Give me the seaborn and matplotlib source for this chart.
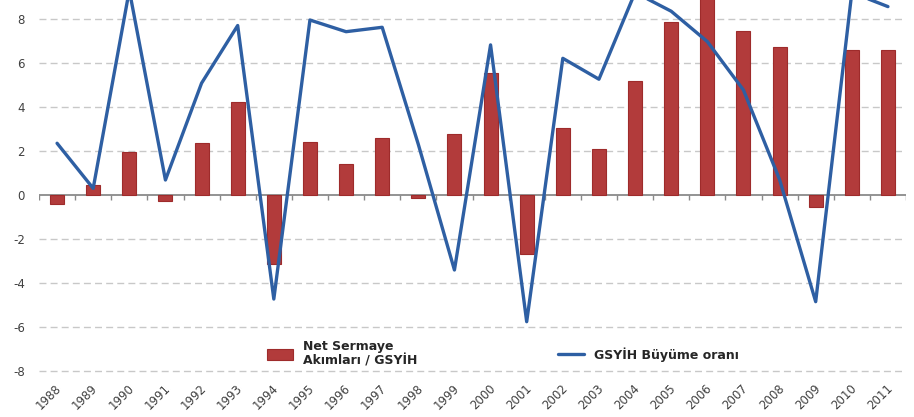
import numpy as np
import pandas as pd
import matplotlib
matplotlib.use("Agg")
import matplotlib.pyplot as plt
from matplotlib.patches import Patch
from matplotlib.lines import Line2D
import seaborn as sns

# values
years = [str(y) for y in range(1988, 2012)]
net_flows = [-0.4, 0.45, 1.95, -0.27, 2.35, 4.24, -3.15, 2.41, 1.41, 2.6, -0.12, 2.76,
             5.53, -2.68, 3.03, 2.09, 5.17, 7.85, 9.2, 7.44, 6.71, -0.53, 6.58, 6.59]
growth = [2.35, 0.3, 9.3, 0.68, 5.08, 7.7, -4.73, 7.95, 7.42, 7.62, 2.3, -3.41,
          6.82, -5.76, 6.21, 5.26, 9.2, 8.35, 6.97, 4.77, 0.7, -4.85, 9.2, 8.56]
y_ticks = [-8, -6, -4, -2, 0, 2, 4, 6, 8]

bar_label = "Net Sermaye\nAkımları / GSYİH"
line_label = "GSYİH Büyüme oranı"

df = pd.DataFrame({"year": years, "flows": net_flows, "growth": growth})
df["pos"] = np.arange(len(df))

sns.set_style("white")
plt.rcParams["font.family"] = ["DejaVu Sans"]

bar_color = "#b23b3b"
line_color = "#2e5fa3"
text_color = "#404040"

fig = plt.figure(figsize=(9.14, 4.17), dpi=100)
ax = fig.add_axes([39 / 914, 43.8 / 417, 867 / 914, 373.2 / 417])

# grid lines (dashed), zero line solid
for t in y_ticks:
    if t == 0:
        continue
    ax.axhline(t, color="#c8c8c8", lw=1, ls=(0, (5, 3)), zorder=0)

sns.barplot(data=df, x="year", y="flows", color=bar_color, saturation=1, width=0.39,
            edgecolor="#9e2b2b", linewidth=0.8, ax=ax, zorder=2)
sns.lineplot(data=df, x="pos", y="growth", color=line_color, lw=2.4, ax=ax, zorder=3)

ax.axhline(0, color="#8a8a8a", lw=1.3, zorder=1)
# tick marks between categories on the zero line
bounds = np.arange(-0.5, len(years), 1.0)
ax.vlines(bounds, -0.22, 0, color="#8a8a8a", lw=1, zorder=1)

ax.set_xlim(-0.5, len(years) - 0.5)
ax.set_ylim(-8.1, 8.86)
ax.set_yticks(y_ticks)
ax.set_yticklabels([str(t) for t in y_ticks], fontsize=8.5, color=text_color)
ax.tick_params(axis="y", length=0, pad=10)
ax.set_xticks([])
ax.set_xlabel("")
ax.set_ylabel("")
for s in ax.spines.values():
    s.set_visible(False)

# rotated year labels below the plot
trans = matplotlib.transforms.blended_transform_factory(ax.transData, ax.transAxes)
for i, y in enumerate(years):
    ax.text(i + 0.2, -0.024, y, transform=trans, rotation=45, ha="right", va="top",
            fontsize=8.5, color=text_color)

handles = [Patch(facecolor=bar_color, edgecolor="#9e2b2b", linewidth=0.8),
           Line2D([], [], color=line_color, lw=2.4)]
ax.legend(handles, [bar_label, line_label], loc="center", bbox_to_anchor=(0.535, 0.052),
          ncol=2, frameon=False, prop={"weight": "bold", "size": 9},
          handlelength=2.1, handleheight=0.9, handletextpad=0.8, columnspacing=11.2)

fig.savefig("out.png", dpi=100)
